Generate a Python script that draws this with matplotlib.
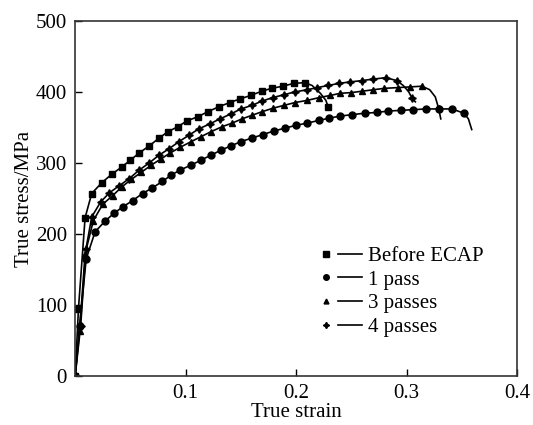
import matplotlib
matplotlib.use("Agg")
import matplotlib.pyplot as plt
from matplotlib.lines import Line2D
from matplotlib.legend_handler import HandlerTuple

plt.rcParams['font.family'] = ['Liberation Serif', 'DejaVu Serif']

# Before ECAP
strain_0 = [0, 0.003, 0.009, 0.015, 0.024, 0.033, 0.042, 0.050, 0.058, 0.067, 0.076,
            0.084, 0.093, 0.101, 0.111, 0.120, 0.130, 0.140, 0.149, 0.159, 0.169,
            0.178, 0.188, 0.198, 0.208, 0.2145, 0.222, 0.227, 0.229]
stress_0 = [0, 95, 223, 257, 272, 284, 294, 304, 314, 324, 335,
            344, 351, 359, 365, 372, 379, 385, 390, 395, 401,
            405, 408, 412, 413, 409, 398, 388, 379]
unmarked_0 = [25, 26, 27]

# 1 pass
strain_1 = [0, 0.004, 0.010, 0.018, 0.027, 0.035, 0.043, 0.052, 0.061, 0.070, 0.079,
            0.087, 0.095, 0.105, 0.114, 0.123, 0.132, 0.141, 0.150, 0.160, 0.170,
            0.180, 0.190, 0.200, 0.210, 0.221, 0.230, 0.240, 0.251, 0.262, 0.273,
            0.283, 0.295, 0.306, 0.318, 0.329, 0.341, 0.352, 0.356, 0.359]
stress_1 = [0, 71, 165, 203, 218, 229, 238, 247, 257, 265, 274,
            283, 290, 297, 304, 311, 318, 324, 330, 335, 340,
            345, 349, 353, 356, 360, 363, 366, 368, 370, 371,
            373, 374, 375, 376, 376, 376, 370, 362, 347]
unmarked_1 = [38, 39]

# 3 passes
strain_3 = [0, 0.004, 0.009, 0.0165, 0.025, 0.034, 0.042, 0.051, 0.060, 0.069, 0.078,
            0.086, 0.095, 0.105, 0.114, 0.123, 0.133, 0.142, 0.151, 0.160, 0.169,
            0.179, 0.189, 0.199, 0.210, 0.221, 0.231, 0.240, 0.250, 0.260, 0.270,
            0.280, 0.292, 0.303, 0.314, 0.321, 0.326, 0.329, 0.331]
stress_3 = [0, 64, 172, 219, 242, 254, 266, 277, 287, 297, 306,
            314, 322, 330, 337, 344, 351, 356, 362, 367, 372,
            377, 381, 385, 388, 392, 395, 398, 399, 401, 403,
            405, 406, 407, 408, 403, 393, 377, 362]
unmarked_3 = [35, 36, 38]

# 4 passes
strain_4 = [0, 0.005, 0.0098, 0.015, 0.023, 0.031, 0.040, 0.049, 0.058, 0.067, 0.076,
            0.085, 0.094, 0.103, 0.112, 0.122, 0.131, 0.141, 0.150, 0.160, 0.169,
            0.179, 0.189, 0.199, 0.210, 0.219, 0.229, 0.239, 0.249, 0.260, 0.270,
            0.281, 0.291, 0.297, 0.302, 0.305, 0.308]
stress_4 = [0, 71, 179, 224, 245, 258, 268, 278, 290, 300, 311,
            320, 330, 339, 348, 355, 362, 369, 376, 381, 387,
            392, 396, 400, 403, 406, 409, 412, 414, 416, 418,
            420, 416, 409, 400, 391, 386]
unmarked_4 = [33, 34, 36]

labels = ['Before ECAP', '1 pass', '3 passes', '4 passes']
xticks = [0, 0.1, 0.2, 0.3, 0.4]
xtick_labels = ['', '0.1', '0.2', '0.3', '0.4']
yticks = [0, 100, 200, 300, 400, 500]

series = [(strain_0, stress_0, unmarked_0, 's', 5),
          (strain_1, stress_1, unmarked_1, 'o', 5),
          (strain_3, stress_3, unmarked_3, '^', 4.5),
          (strain_4, stress_4, unmarked_4, (4, 1, 0), 5.5)]

fig = plt.figure(figsize=(5.33, 4.25), dpi=100)
ax = fig.add_axes([0.141, 0.115, 0.829, 0.836])

handles = []
for (x, y, skip, mk, ms), lab in zip(series, labels):
    marks = [i for i in range(len(x)) if i not in skip]
    ax.plot(x, y, color='black', lw=1.2, marker=mk, ms=ms, markevery=marks)
    h_mark = Line2D([], [], color='black', ls='none', marker=mk, ms=ms - 1)
    h_line = Line2D([], [], color='black', lw=1.2)
    handles.append((h_mark, h_line))

ax.legend(handles, labels, handler_map={tuple: HandlerTuple(ndivide=None, pad=0)},
          loc='lower left', bbox_to_anchor=(0.54, 0.11), frameon=False,
          fontsize=15, handlelength=2.3, handletextpad=0.3, labelspacing=0.2,
          borderpad=0, borderaxespad=0)

ax.set_xlim(0, 0.4)
ax.set_ylim(0, 500)
ax.set_xticks(xticks)
ax.set_xticklabels(xtick_labels)
ax.set_yticks(yticks)
ax.tick_params(direction='in', length=5, width=1, labelsize=15, top=False, right=False)
ax.tick_params(axis='x', pad=6)
ax.tick_params(axis='y', pad=6)
for sp in ax.spines.values():
    sp.set_linewidth(1.2)
    sp.set_color('#333333')

ax.set_xlabel('True strain', fontsize=15, labelpad=0)
ax.set_ylabel('True stress/MPa', fontsize=15, labelpad=1)

fig.savefig('out.png', dpi=100)
